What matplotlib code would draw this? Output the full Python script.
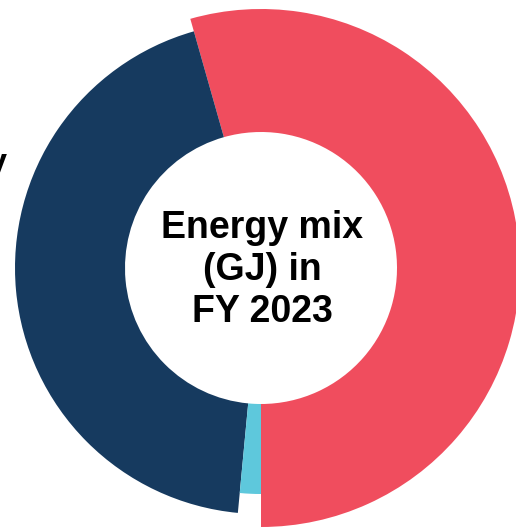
import matplotlib.pyplot as plt

# Energy mix shares (%)
labels = ['Grid electricity', 'Electricity', 'Renewable']
shares = [54.4, 44.1, 1.5]
colors = ['#F04D5E', '#163A5F', '#5EC8DC']
outer_radius = [259, 246, 226]
inner_radius = 136
center_text = 'Energy mix\n(GJ) in\nFY 2023'

fig = plt.figure(figsize=(5.16, 5.27), dpi=100)
ax = fig.add_axes([0, 0, 1, 1])

wedges, _ = ax.pie(shares, colors=colors, startangle=-90, counterclock=True,
                   center=(261, 259), radius=259,
                   wedgeprops=dict(width=259 - inner_radius, linewidth=0))

# each slice has its own outer radius
for w, r in zip(wedges, outer_radius):
    w.set_radius(r)
    w.set_width(r - inner_radius)

ax.text(262, 257, center_text, ha='center', va='center', fontsize=27,
        fontweight='bold', family='Liberation Sans', linespacing=1.2)

# label of the left slice, mostly outside the picture
ax.text(8, 354, labels[1], ha='right', va='baseline', fontsize=25,
        fontweight='bold', family='Liberation Sans')

ax.set_xlim(0, 516)
ax.set_ylim(0, 527)
ax.set_aspect('equal')
ax.axis('off')

fig.savefig('out.png', dpi=100)
